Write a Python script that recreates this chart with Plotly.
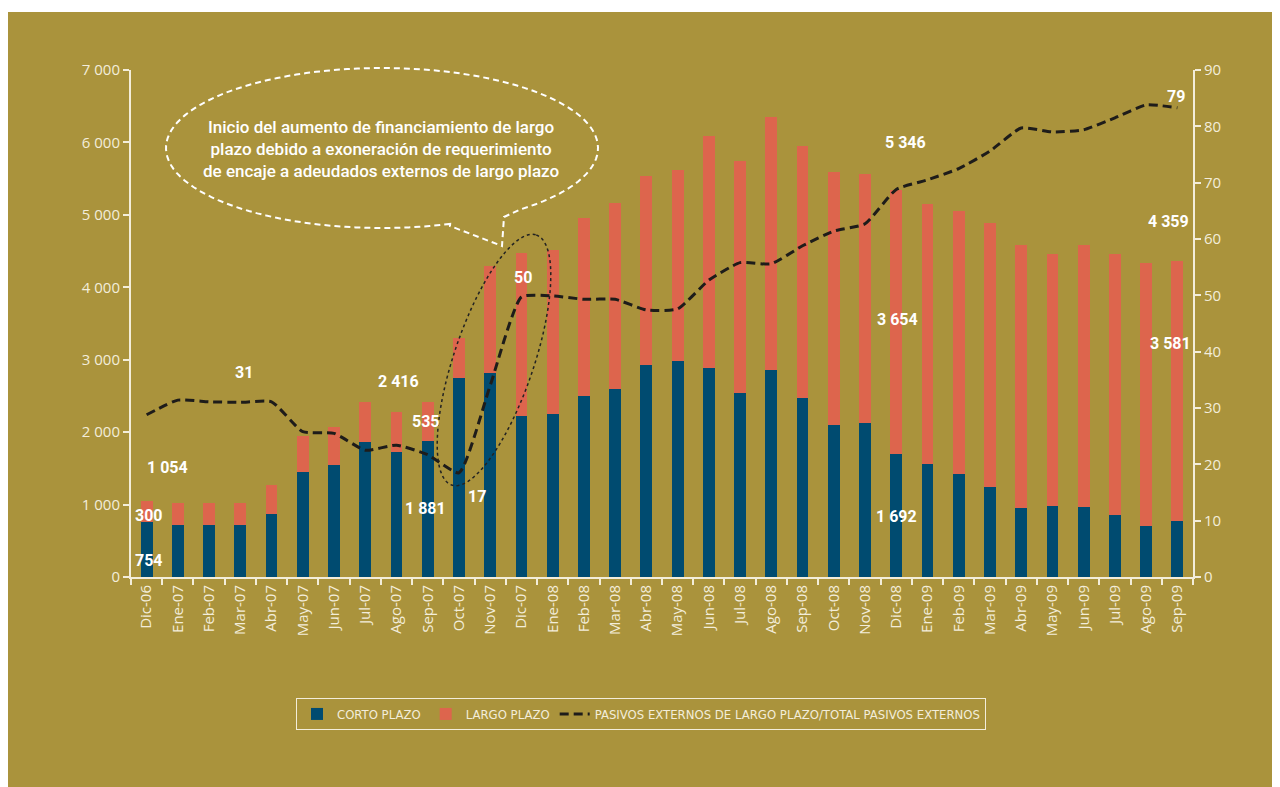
import math
import plotly.graph_objects as go

# ---------------- data ----------------
categories = ["Dic-06", "Ene-07", "Feb-07", "Mar-07", "Abr-07", "May-07", "Jun-07", "Jul-07",
              "Ago-07", "Sep-07", "Oct-07", "Nov-07", "Dic-07", "Ene-08", "Feb-08", "Mar-08",
              "Abr-08", "May-08", "Jun-08", "Jul-08", "Ago-08", "Sep-08", "Oct-08", "Nov-08",
              "Dic-08", "Ene-09", "Feb-09", "Mar-09", "Abr-09", "May-09", "Jun-09", "Jul-09",
              "Ago-09", "Sep-09"]
corto_plazo = [754, 718, 718, 718, 870, 1450, 1547, 1869, 1727, 1881, 2749, 2818, 2224, 2251,
               2500, 2597, 2928, 2983, 2888, 2543, 2859, 2474, 2099, 2128, 1692, 1561, 1423,
               1243, 953, 981, 967, 856, 704, 778]
largo_plazo = [300, 300, 300, 300, 400, 497, 521, 548, 552, 535, 552, 1478, 2251, 2266, 2460,
               2570, 2611, 2639, 3203, 3197, 3495, 3479, 3495, 3438, 3654, 3591, 3636, 3647,
               3633, 3480, 3619, 3605, 3625, 3581]
ratio_largo = [28.8, 31.4, 31.1, 31.0, 31.1, 25.8, 25.5, 22.5, 23.4, 21.7, 18.5, 34.0, 49.7,
               49.9, 49.3, 49.3, 47.4, 47.6, 52.7, 55.8, 55.6, 58.8, 61.4, 62.7, 68.8, 70.5,
               72.5, 75.6, 79.7, 79.0, 79.4, 81.5, 83.8, 83.3]

# value labels printed on the chart: text, category position (index), left-axis height
label_text = ["754", "300", "1 054", "31", "2 416", "535", "1 881", "17", "50",
              "5 346", "3 654", "1 692", "79", "4 359", "3 581"]
label_x = [0.08, 0.08, 0.68, 3.12, 8.05, 8.94, 8.94, 10.58, 12.05,
           24.28, 24.05, 24.02, 32.95, 32.73, 32.79]
label_y = [221, 843, 1506, 2818, 2693, 2141, 939, 1105, 4130,
           5994, 3550, 829, 6630, 4903, 3218]

note_text = ("Inicio del aumento de financiamiento de largo<br>"
             "plazo debido a exoneración de requerimiento<br>"
             "de encaje a adeudados externos de largo plazo")

# ---------------- style ----------------
GOLD = "#AA933C"
BLUE = "#004B70"
RED = "#DD654D"
CREAM = "#F3EDDA"
OFF = 8                       # page body margin
W, H = 1280 - OFF, 787 - OFF  # figure size
L, R, T, B = 131 - OFF, 1193 - OFF, 70 - OFF, 577 - OFF  # plot-area box (figure px)


def px2paper(px, py):
    """page pixel -> paper coords"""
    px -= OFF
    py -= OFF
    return (px - L) / (R - L), (B - py) / (B - T)


def path_from_pixels(points, close=True):
    parts = []
    for i, (px, py) in enumerate(points):
        x, y = px2paper(px, py)
        parts.append(("M" if i == 0 else "L") + f"{x:.5f},{y:.5f}")
    return " ".join(parts) + (" Z" if close else "")


fig = go.Figure()
fig.add_trace(go.Bar(x=categories, y=corto_plazo, name="CORTO PLAZO",
                     marker=dict(color=BLUE, line=dict(width=0)), width=0.38))
fig.add_trace(go.Bar(x=categories, y=largo_plazo, name="LARGO PLAZO",
                     marker=dict(color=RED, line=dict(width=0)), width=0.38))
fig.add_trace(go.Scatter(x=categories, y=ratio_largo, yaxis="y2", mode="lines",
                         name="PASIVOS EXTERNOS DE LARGO PLAZO/TOTAL PASIVOS EXTERNOS",
                         line=dict(color="#1E1C1A", width=3, dash="9px,5px",
                                   shape="spline", smoothing=0.5)))

shapes = []
# gold background panel
x0, y0 = px2paper(8, 800)
x1, y1 = px2paper(1290, 12)
shapes.append(dict(type="rect", xref="paper", yref="paper", x0=x0, y0=y0, x1=x1, y1=y1,
                   fillcolor=GOLD, line=dict(width=0), layer="below"))

# speech bubble (white dashed)
cx, cy, rx, ry = 382, 148, 216, 80
t_start, t_end = 71.6, 410.3
pts = []
n = 120
for i in range(n + 1):
    t = math.radians(t_start + (t_end - t_start) * i / n)
    pts.append((cx + rx * math.cos(t), cy + ry * math.sin(t)))
pts += [(504, 217), (502, 246), (450, 226)]
shapes.append(dict(type="path", xref="paper", yref="paper", path=path_from_pixels(pts),
                   line=dict(color="white", width=2, dash="6px,4px")))

# black dotted ellipse around the jump
ecx, ecy, a, b = 494, 360, 132, 40
phi = math.radians(71.3)
ux, uy = math.cos(phi), -math.sin(phi)
vx, vy = math.sin(phi), math.cos(phi)
epts = []
for i in range(121):
    t = 2 * math.pi * i / 120
    epts.append((ecx + a * math.cos(t) * ux + b * math.sin(t) * vx,
                 ecy + a * math.cos(t) * uy + b * math.sin(t) * vy))
shapes.append(dict(type="path", xref="paper", yref="paper", path=path_from_pixels(epts),
                   line=dict(color="#222222", width=1.5, dash="3px,3px")))

annotations = []
for txt, xx, yy in zip(label_text, label_x, label_y):
    annotations.append(dict(x=xx, y=yy, xref="x", yref="y", text=f"<b>{txt}</b>",
                            showarrow=False, xanchor="center", yanchor="middle",
                            font=dict(family="Roboto", size=16, color="white")))
nx, ny = px2paper(381, 149)
annotations.append(dict(x=nx, y=ny, xref="paper", yref="paper", text=note_text,
                        showarrow=False, align="center", xanchor="center", yanchor="middle",
                        font=dict(family="Roboto", size=17, color="white", weight=500)))

TICKFONT = dict(family="Open Sans", size=15, color=CREAM)
axis_common = dict(showline=True, linecolor=CREAM, linewidth=2, ticks="outside",
                   ticklen=6, tickwidth=2, tickcolor=CREAM, showgrid=False, zeroline=False,
                   tickfont=TICKFONT)

lx, ly = px2paper(641, 698)
fig.update_layout(
    width=W, height=H,
    margin=dict(l=L, r=W - R, t=T, b=H - B, pad=0),
    paper_bgcolor="white", plot_bgcolor="rgba(0,0,0,0)",
    barmode="stack", separators=", ",
    xaxis=dict(type="category", range=[-0.5, 33.5], tickangle=-90, tickson="boundaries",
               **axis_common),
    yaxis=dict(range=[0, 7000], dtick=1000, tickformat=",d", **axis_common),
    yaxis2=dict(range=[0, 90], dtick=10, overlaying="y", side="right", **axis_common),
    shapes=shapes, annotations=annotations,
    legend=dict(orientation="h", x=lx, y=ly, xanchor="center", yanchor="top",
                bordercolor=CREAM, borderwidth=1, bgcolor="rgba(0,0,0,0)",
                font=dict(family="DejaVu Sans Condensed, Roboto, sans-serif", size=13,
                          color=CREAM),
                itemwidth=30, traceorder="normal"),
    showlegend=True,
)

fig.write_html("out.html")
